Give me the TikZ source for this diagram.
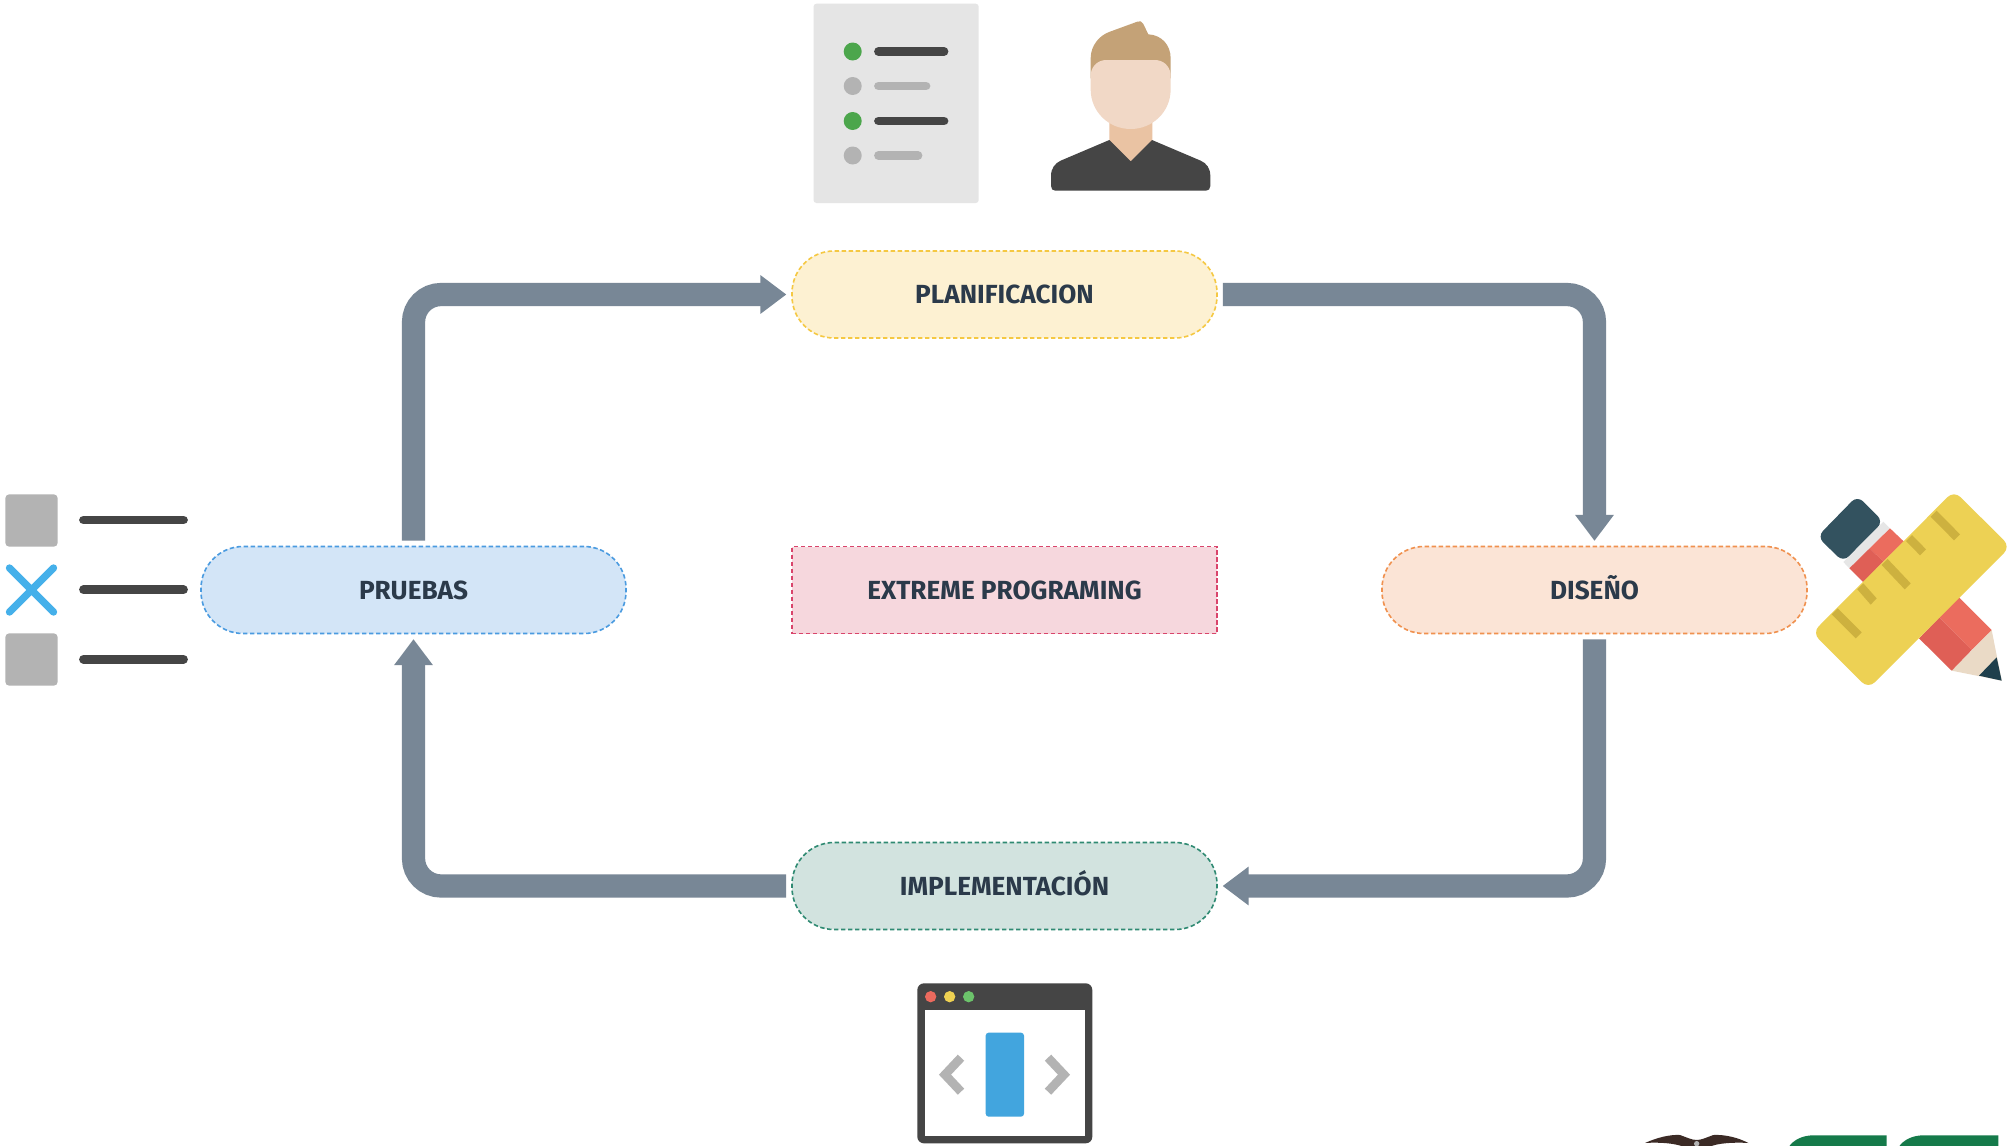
\documentclass[tikz,border=0pt]{standalone}
\usepackage{fontspec}
\setmainfont{Fira Sans}
\usetikzlibrary{arrows.meta}
\definecolor{ink}{HTML}{2B3A4A}
\definecolor{flow}{HTML}{788796}
\definecolor{dk}{HTML}{454545}
\definecolor{gy}{HTML}{B3B3B3}
\definecolor{paper}{HTML}{E5E5E5}
\definecolor{okgreen}{HTML}{4CA64C}
\definecolor{yfill}{HTML}{FDF1D2}\definecolor{yline}{HTML}{F5C842}
\definecolor{bfill}{HTML}{D3E5F7}\definecolor{bline}{HTML}{4A9BE0}
\definecolor{ofill}{HTML}{FBE4D6}\definecolor{oline}{HTML}{F0914F}
\definecolor{gfill}{HTML}{D2E3DF}\definecolor{gline}{HTML}{2F8A72}
\definecolor{pfill}{HTML}{F6D7DD}\definecolor{pline}{HTML}{D9446B}
\definecolor{neck}{HTML}{EAC3A3}\definecolor{hair}{HTML}{C4A277}\definecolor{face}{HTML}{F1D8C6}
\definecolor{xblue}{HTML}{45B0EA}
\definecolor{eraser}{HTML}{33525F}\definecolor{band}{HTML}{E6E6E6}
\definecolor{redl}{HTML}{EB6C5E}\definecolor{redd}{HTML}{DF5F56}
\definecolor{wood}{HTML}{EADAC6}\definecolor{lead}{HTML}{1F3F4C}
\definecolor{ruler}{HTML}{EDD154}\definecolor{tick}{HTML}{CDB13F}
\definecolor{wred}{HTML}{EC6A5E}\definecolor{wyel}{HTML}{EFD152}\definecolor{wgrn}{HTML}{6CC36B}
\definecolor{wblue}{HTML}{42A5DE}
\definecolor{eagle}{HTML}{3B2A25}\definecolor{logo}{HTML}{157A4A}
\tikzset{
  x=0.5pt,y=-0.5pt,
  stage/.style={minimum width=212.5pt,minimum height=43.5pt,inner sep=0pt,outer sep=0pt,
    text height=9pt,text depth=0pt,
    line width=.8pt,dash pattern=on 2.2pt off 1.3pt,text=ink,
    font=\fontsize{13.1pt}{14pt}\selectfont\bfseries},
  pill/.style={stage,rectangle,rounded corners=21pt},
  flowarrow/.style={draw=flow,line width=11.6pt,rounded corners=13.8pt,
    -{Triangle[width=18.5pt,length=13pt]},shorten <=2.9pt,shorten >=2.8pt},
  bar/.style={draw=#1,line width=4.4pt,line cap=round},
  sub/.style={shift={#1},scale=1/3}
}
\begin{document}
\begin{tikzpicture}
\useasboundingbox (0,0) rectangle (2010,1146);
\fill[white] (0,0) rectangle (2010,1146);
% stages
\node[pill,fill=yfill,draw=yline] (plan) at (1004.5,294.5) {PLANIFICACION};
\node[pill,fill=bfill,draw=bline] (pru) at (413.5,590) {PRUEBAS};
\node[pill,fill=ofill,draw=oline] (des) at (1594.5,590) {DISEÑO};
\node[pill,fill=gfill,draw=gline] (imp) at (1004.5,886) {IMPLEMENTACIÓN};
\node[stage,rectangle,fill=pfill,draw=pline] (xp) at (1004.5,590) {EXTREME PROGRAMING};
% flow
\draw[flowarrow] (pru.north) |- (plan.west);
\draw[flowarrow] (plan.east) -| (des.north);
\draw[flowarrow] (des.south) |- (imp.east);
\draw[flowarrow] (imp.west) -| (pru.south);
% checklist
\fill[paper,rounded corners=1.5pt] (813.5,3.7) rectangle (978.7,203);
\foreach \yy in {51.5,121}{\fill[okgreen] (852.7,\yy) circle[radius=9];\draw[bar=dk] (878.5,\yy) -- (944,\yy);}
\foreach \yy/\xe in {86/926,155.5/918}{\fill[gy] (852.7,\yy) circle[radius=9];\draw[bar=gy] (878.5,\yy) -- (\xe,\yy);}
% person
\begin{scope}[sub={(780,0)}]
\fill[neck] (988,360) -- (1117,360) -- (1117,425) -- (1052,490) -- (988,425) -- cycle;
\fill[dk] (813,555) -- (813,528) .. controls (813,505) and (825,490) .. (842,482) -- (988,420) -- (1052,484) -- (1116,420) -- (1262,482) .. controls (1280,490) and (1291,505) .. (1291,528) -- (1291,558) .. controls (1291,567) and (1286,572) .. (1278,572) -- (826,572) .. controls (818,572) and (813,567) .. (813,558) -- cycle;
\fill[hair] (932,225) -- (932,175) .. controls (932,135) and (960,105) .. (990,95) -- (1072,65) .. controls (1080,61) and (1086,64) .. (1090,72) -- (1105,103) .. controls (1145,105) and (1172,135) .. (1172,175) -- (1172,235) -- (932,235) -- cycle;
\fill[face] (932,222) .. controls (936,196) and (955,180) .. (980,180) -- (1124,180) .. controls (1149,180) and (1168,196) .. (1172,222) -- (1172,268) .. controls (1172,335) and (1118,387) .. (1052,387) .. controls (986,387) and (932,335) .. (932,268) -- cycle;
\end{scope}
% tests
\fill[gy,rounded corners=2pt] (5.3,494.3) rectangle (57.7,546.7);
\fill[gy,rounded corners=2pt] (5.3,633.3) rectangle (57.7,685.7);
\draw[xblue,line width=3.7pt,line cap=round] (9.5,568) -- (53.5,612) (53.5,568) -- (9.5,612);
\foreach \yy in {520,589.7,659.3}{\draw[bar=dk] (83.5,\yy) -- (183.5,\yy);}
% pencil and ruler
\begin{scope}[sub={(1780,480)}]
\fill[eraser,rounded corners=4pt] (310,125) -- (232,47) -- (112,170) -- (190,246) -- cycle;
\fill[band] (310,125) -- (330,145) -- (208,265) -- (190,246) -- cycle;
\fill[redl] (330,145) -- (372,185) -- (310,245) -- (269,205) -- cycle;
\fill[redd] (269,205) -- (310,245) -- (250,307) -- (208,265) -- cycle;
\fill[wood] (635,450) -- (665,602) -- (515,572) -- cycle;
\fill[lead] (650,532) -- (665,602) -- (597,587) -- cycle;
\fill[redl] (537,352) -- (635,450) -- (575,510) -- (478,412) -- cycle;
\fill[redd] (478,412) -- (575,510) -- (515,572) -- (417,475) -- cycle;
\fill[ruler,rounded corners=4.5pt] (522,32) -- (691,200) -- (265,626) -- (97,458) -- cycle;
\foreach \ax/\ay/\bx/\by/\cx/\cy/\dx/\dy in {452/110/470/92/540/163/522/181,378/183/396/165/438/208/420/226,305/255/323/237/392/310/374/328,232/328/250/310/290/355/272/374,155/403/173/385/245/457/227/475}
  \fill[tick] (\ax,\ay) -- (\bx,\by) -- (\cx,\cy) -- (\dx,\dy) -- cycle;
\end{scope}
% window
\begin{scope}[sub={(890,960)}]
\fill[dk,rounded corners=3.3pt] (82,70) rectangle (607,550);
\fill[white] (104,150) rectangle (584,527);
\fill[wred] (122,110) circle[radius=17];
\fill[wyel] (179,110) circle[radius=17];
\fill[wgrn] (236,110) circle[radius=17];
\fill[wblue,rounded corners=1.5pt] (287,218) rectangle (402,470);
\draw[gy,line width=4.4pt] (213,293) -- (165,344) -- (213,395);
\draw[gy,line width=4.4pt] (474,293) -- (522,344) -- (474,395);
\end{scope}
% emblem fragment at the lower edge
\begin{scope}[sub={(1600,1096)}]
\clip (0,0) rectangle (1230,150);
\fill[eagle] (135,141) .. controls (170,125) and (210,115) .. (240,117) .. controls (260,124) and (275,132) .. (290,132) .. controls (305,132) and (320,124) .. (340,117) .. controls (375,115) and (415,125) .. (445,141) .. controls (400,138) and (350,142) .. (330,152) -- (250,152) .. controls (225,142) and (180,138) .. (135,141) -- cycle;
\fill[gy] (290,143) circle[radius=8];
\fill[logo] (565,155) .. controls (580,130) and (610,118) .. (640,118) -- (860,118) -- (860,155) -- cycle;
\fill[logo] (895,155) .. controls (910,130) and (940,118) .. (970,118) -- (1195,118) -- (1195,155) -- cycle;
\end{scope}
\end{tikzpicture}
\end{document}
